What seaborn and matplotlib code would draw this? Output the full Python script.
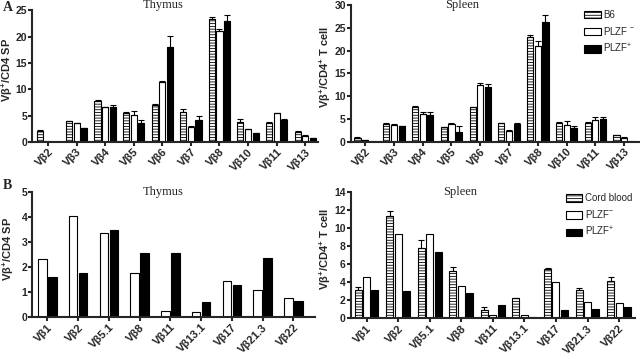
import numpy as np
import pandas as pd
import seaborn as sns
import matplotlib.pyplot as plt
from matplotlib.patches import Patch

# panel A: mouse thymus / spleen
vb_a = ['Vβ2', 'Vβ3', 'Vβ4', 'Vβ5', 'Vβ6', 'Vβ7', 'Vβ8', 'Vβ10', 'Vβ11', 'Vβ13']
thy_b6 = [2.1, 3.9, 7.8, 5.5, 7.0, 5.6, 23.3, 3.8, 3.6, 1.9]
thy_b6_err = [0.15, 0.15, 0.15, 0.15, 0.15, 0.75, 0.5, 0.55, 0.15, 0.15]
thy_neg = [0.05, 3.6, 6.6, 5.1, 11.3, 2.8, 21.1, 2.4, 5.5, 1.2]
thy_neg_err = [0.05, 0.1, 0.1, 0.7, 0.2, 0.15, 0.4, 0.1, 0.05, 0.1]
thy_pos = [0.0, 2.6, 6.6, 3.7, 18.1, 4.1, 23.0, 1.7, 4.2, 0.7]
thy_pos_err = [0.0, 0.1, 0.4, 0.45, 2.0, 0.8, 1.1, 0.1, 0.1, 0.1]

spl_b6 = [0.85, 3.9, 7.7, 3.2, 7.5, 4.0, 23.0, 4.1, 4.0, 1.45]
spl_b6_err = [0.1, 0.2, 0.2, 0.1, 0.2, 0.1, 0.4, 0.3, 0.2, 0.1]
spl_neg = [0.35, 3.65, 6.0, 3.95, 12.4, 2.4, 21.1, 3.7, 4.85, 0.9]
spl_neg_err = [0.1, 0.15, 0.5, 0.15, 0.4, 0.1, 0.95, 0.75, 0.45, 0.05]
spl_pos = [0.1, 3.4, 5.9, 2.05, 11.9, 3.9, 26.2, 2.9, 5.0, 0.1]
spl_pos_err = [0.0, 0.05, 0.6, 1.45, 0.65, 0.1, 1.6, 0.6, 0.45, 0.0]

# panel B: human thymus / spleen
vb_b = ['Vβ1', 'Vβ2', 'Vβ5.1', 'Vβ8', 'Vβ11', 'Vβ13.1', 'Vβ17', 'Vβ21.3', 'Vβ22']
hthy_neg = [2.33, 4.07, 3.38, 1.77, 0.27, 0.2, 1.45, 1.1, 0.77]
hthy_pos = [1.6, 1.78, 3.5, 2.56, 2.58, 0.6, 1.3, 2.38, 0.65]

hspl_cb = [3.2, 11.35, 7.8, 5.25, 0.95, 2.25, 5.45, 3.15, 4.1]
hspl_cb_err = [0.3, 0.6, 0.9, 0.4, 0.3, 0.05, 0.1, 0.2, 0.45]
hspl_neg = [4.6, 9.4, 9.4, 3.6, 0.4, 0.4, 4.0, 1.85, 1.7]
hspl_pos = [3.15, 3.05, 7.4, 2.85, 1.45, 0.15, 0.9, 1.05, 1.3]

NEG = 'PLZF$^{-}$'
POS = 'PLZF$^{+}$'

sns.set_style('ticks')
plt.rcParams['font.family'] = ['Liberation Sans', 'DejaVu Sans']
plt.rcParams['font.weight'] = 'bold'
plt.rcParams['mathtext.default'] = 'regular'
plt.rcParams['hatch.linewidth'] = 0.6
plt.rcParams['axes.linewidth'] = 1.5

fills = {'hatch': 'white', 'neg': 'white', 'pos': 'black'}


def panel(ax, cats, series, errs, width, gap, xlim, ymax, ystep, ylabel, lx,
          title, tx, ty):
    keys = list(series)
    df = pd.DataFrame({
        'vb': np.tile(cats, len(keys)),
        'pct': np.concatenate([series[k] for k in keys]),
        'grp': np.repeat(keys, len(cats)),
    })
    sns.barplot(data=df, x='vb', y='pct', hue='grp', hue_order=keys,
                palette=fills, saturation=1, edgecolor='black', linewidth=0.8,
                width=width, gap=gap, errorbar=None, legend=False, ax=ax)
    for cont, k in zip(ax.containers, keys):
        if k == 'hatch':
            for p in cont:
                p.set_hatch('------')
        if k in errs:
            xs = np.array([p.get_x() + p.get_width() / 2 for p in cont])
            ys = np.array([p.get_height() for p in cont])
            e = np.array(errs[k])
            m = e > 0
            ax.errorbar(xs[m], ys[m], yerr=[np.zeros(m.sum()), e[m]], fmt='none',
                        ecolor='black', elinewidth=0.8, capsize=2, capthick=0.8)
    ax.set_xlim(*xlim)
    ax.set_ylim(0, ymax)
    ax.set_yticks(np.arange(0, ymax + 0.01, ystep))
    ax.set_xlabel('')
    ax.set_ylabel(ylabel, fontsize=8, fontweight='bold')
    ax.yaxis.set_label_coords(lx, 0.55)
    ax.tick_params(axis='both', width=1.5, length=3, pad=0.5)
    ax.tick_params(axis='x', labelsize=8)
    ax.tick_params(axis='y', labelsize=7.5)
    for lab in ax.get_xticklabels():
        lab.set_rotation(45)
        lab.set_ha('right')
        lab.set_rotation_mode('anchor')
    sns.despine(ax=ax)
    ax.text(tx, ty, title, transform=ax.transAxes, ha='center', va='baseline',
            family='Liberation Serif', fontweight='normal', fontsize=9)


fig = plt.figure(figsize=(6.4, 3.59), dpi=100)
ax1 = fig.add_axes([0.05, 0.6045, 0.447, 0.3667])
ax2 = fig.add_axes([0.548, 0.6055, 0.452, 0.3806])
ax3 = fig.add_axes([0.05, 0.1161, 0.442, 0.3482])
ax4 = fig.add_axes([0.548, 0.1133, 0.444, 0.351])

panel(ax1, vb_a, {'hatch': thy_b6, 'neg': thy_neg, 'pos': thy_pos},
      {'hatch': thy_b6_err, 'neg': thy_neg_err, 'pos': thy_pos_err},
      0.8, 0.2, (-0.56, 9.45), 25, 5, 'Vβ$^{+}$/CD4 SP', -0.06,
      'Thymus', 0.458, 1.014)
panel(ax2, vb_a, {'hatch': spl_b6, 'neg': spl_neg, 'pos': spl_pos},
      {'hatch': spl_b6_err, 'neg': spl_neg_err, 'pos': spl_pos_err},
      0.8, 0.2, (-0.5, 9.55), 30, 5, 'Vβ$^{+}$/CD4$^{+}$ T cell', -0.062,
      'Spleen', 0.384, 0.978)
panel(ax3, vb_b, {'neg': hthy_neg, 'pos': hthy_pos}, {},
      0.65, 0.15, (-0.5, 8.7), 5, 1, 'Vβ$^{+}$/CD4 SP', -0.058,
      'Thymus', 0.463, 0.978)
panel(ax4, vb_b, {'hatch': hspl_cb, 'neg': hspl_neg, 'pos': hspl_pos},
      {'hatch': hspl_cb_err},
      0.8, 0.17, (-0.5, 8.5), 14, 2, 'Vβ$^{+}$/CD4$^{+}$ T cell', -0.062,
      'Spleen', 0.384, 0.975)


def key(ax, names, anchor):
    handles = [Patch(facecolor='white', edgecolor='black', hatch='------', linewidth=0.8),
               Patch(facecolor='white', edgecolor='black', linewidth=0.8),
               Patch(facecolor='black', edgecolor='black', linewidth=0.8)]
    ax.legend(handles, names, loc='upper left', bbox_to_anchor=anchor, frameon=False,
              borderpad=0, handlelength=1.7, handleheight=0.8, handletextpad=0.25,
              labelspacing=0.5, prop={'size': 7, 'weight': 'normal'})


key(ax2, ['B6', 'PLZF $^{-}$', POS], (0.79, 1.0))
key(ax4, ['Cord blood', NEG, POS], (0.74, 1.03))

fig.text(0.004, 0.978, 'A', family='Liberation Serif', fontweight='bold', fontsize=10, va='center')
fig.text(0.004, 0.484, 'B', family='Liberation Serif', fontweight='bold', fontsize=10, va='center')

fig.savefig('out.png', dpi=100)
